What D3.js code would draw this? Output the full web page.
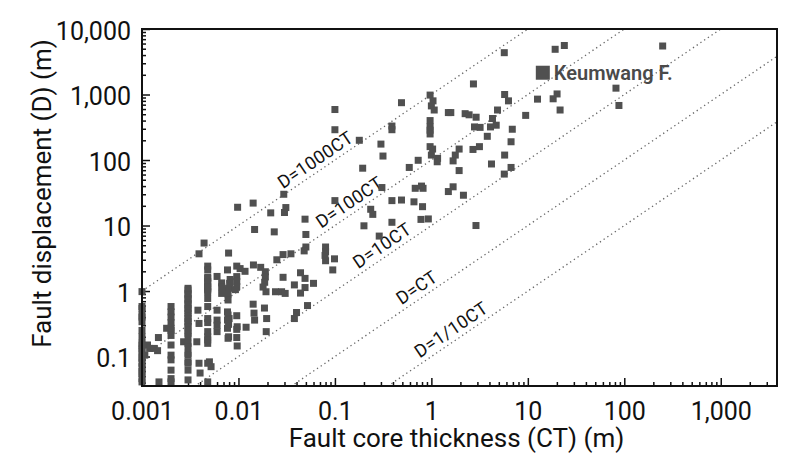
<!DOCTYPE html>
<html>
<head>
<meta charset="utf-8">
<script src="https://cdn.jsdelivr.net/npm/d3@7"></script>
<style>
  body { margin: 0; background: #fff; }
  svg { display: block; }
  text { font-family: Roboto, "DejaVu Sans", sans-serif; }
</style>
</head>
<body>
<div id="chart"></div>
<script>
// [fault core thickness CT (m), fault displacement D (m)]
const points = [
  // CT ~ 0.001
  [0.001,0.98],[0.001,0.58],[0.001,0.54],[0.001,0.43],[0.001,0.40],[0.001,0.34],[0.001,0.25],[0.001,0.20],
  [0.001,0.16],[0.001,0.15],[0.001,0.13],[0.001,0.12],[0.001,0.099],[0.001,0.094],[0.001,0.079],[0.001,0.070],
  [0.001,0.059],[0.001,0.055],[0.001,0.046],[0.001,0.041],
  [0.00107,0.105],[0.00114,0.15],[0.0012,0.133],[0.00134,0.133],[0.00145,0.123],[0.00148,0.195],[0.0015,0.041],
  // CT ~ 0.002
  [0.002,0.58],[0.002,0.48],[0.002,0.40],[0.002,0.33],[0.002,0.27],[0.0018,0.27],[0.002,0.25],[0.002,0.21],
  [0.002,0.15],[0.002,0.105],[0.002,0.089],[0.002,0.062],[0.002,0.046],[0.002,0.041],
  // CT ~ 0.003
  [0.003,1.10],[0.003,1.04],[0.003,0.92],[0.003,0.87],[0.003,0.77],[0.003,0.73],[0.003,0.65],[0.003,0.61],
  [0.003,0.54],[0.003,0.51],[0.003,0.46],[0.003,0.41],[0.003,0.38],[0.003,0.34],[0.003,0.32],[0.003,0.285],
  [0.003,0.25],[0.003,0.226],[0.003,0.20],[0.0027,0.168],[0.003,0.159],[0.003,0.141],[0.003,0.112],[0.003,0.105],
  [0.003,0.083],[0.003,0.079],[0.003,0.062],[0.003,0.044],
  // CT ~ 0.004
  [0.0038,0.51],[0.0039,0.32],[0.0037,0.168],[0.0039,0.079],[0.004,0.056],[0.0039,3.7],[0.0044,5.4],
  // CT ~ 0.005
  [0.0048,2.4],[0.0048,2.1],[0.0048,1.62],[0.0048,1.56],[0.0048,1.39],[0.0048,1.31],[0.0048,1.16],[0.0048,1.10],
  [0.0048,1.04],[0.0048,0.975],[0.0048,0.77],[0.0048,0.58],[0.0048,0.38],[0.0048,0.33],[0.0048,0.24],[0.0048,0.20],
  [0.0048,0.179],[0.0048,0.159],[0.005,0.083],[0.0048,0.079],[0.0052,0.070],[0.0048,0.041],
  // CT ~ 0.006 - 0.007
  [0.006,1.67],[0.006,0.51],[0.006,0.36],[0.006,0.30],[0.006,0.24],
  [0.0067,1.33],[0.0067,1.16],[0.0069,1.04],[0.0067,0.92],
  // CT ~ 0.008
  [0.0079,3.8],[0.0077,2.1],[0.0082,1.5],[0.0081,1.31],[0.0079,1.10],[0.0078,0.90],[0.0078,0.73],[0.0077,0.48],
  [0.0078,0.43],[0.008,0.38],[0.0077,0.36],[0.0079,0.31],[0.0077,0.27],[0.0079,0.20],[0.0078,0.19],
  // CT ~ 0.01
  [0.0096,2.4],[0.0096,1.66],[0.0096,1.4],[0.0096,1.17],[0.0093,1.05],[0.0096,0.42],[0.0097,0.285],[0.0096,0.26],
  [0.0096,0.195],[0.0097,0.145],[0.0104,2.2],[0.0117,2.0],[0.012,0.28],
  // CT 0.01 - 0.1, upper
  [0.0098,19],[0.0142,22],[0.0147,8.7],[0.0216,15.6],[0.031,18.8],[0.030,15.8],[0.0295,30],[0.049,12.5],
  [0.0235,8.0],[0.050,7.3],[0.10,590],[0.10,290],[0.10,24],
  // CT 0.01 - 0.1, middle
  [0.029,3.6],[0.035,3.7],[0.050,4.7],[0.048,4.1],[0.025,3.0],[0.080,4.7],[0.080,4.0],[0.079,3.5],
  [0.080,2.9],[0.099,3.1],[0.095,2.1],
  [0.0143,2.5],[0.017,2.3],[0.019,1.97],[0.019,1.64],[0.0187,1.36],[0.018,1.15],[0.0193,0.975],[0.0242,0.975],
  [0.028,0.975],[0.0305,0.92],[0.029,1.62],[0.044,1.9],[0.049,1.56],[0.038,1.24],[0.060,1.31],[0.049,1.13],
  [0.044,0.93],[0.052,0.60],[0.040,0.47],[0.038,0.38],
  [0.0142,0.63],[0.0186,0.55],[0.0145,0.46],[0.0147,0.36],[0.0196,0.38],[0.0194,0.24],
  // CT 0.1 - 1
  [0.179,200],[0.194,75],[0.235,17.7],[0.247,14.8],[0.20,9.9],[0.288,6.9],[0.30,175],[0.315,115],
  [0.307,38],[0.39,330],[0.39,290],[0.39,24],[0.49,24.5],[0.66,23],[0.81,19.4],[0.39,11.2],
  [0.78,12.4],[0.93,12.6],[0.59,77],[0.73,99],[0.68,37],[0.79,40],[0.82,37],[0.49,750],
  // CT 1 - 10
  [0.97,980],[1.04,800],[1.0,670],[1.07,580],[1.5,530],[1.59,530],[2.24,510],[2.46,490],
  [2.91,450],[5.7,4350],[2.73,1450],[5.75,1000],[6.3,800],[4.85,580],[4.3,430],[2.8,320],
  [3.2,315],[4.1,320],[4.7,340],[6.9,295],[3.8,230],[9.5,480],[12.6,850],
  [0.97,400],[0.97,320],[0.97,285],[0.97,250],[0.97,160],[1.03,147],[1.0,119],[1.16,106],
  [1.15,94],[1.94,147],[1.77,119],[1.68,97],[2.7,145],[3.15,160],[6.7,190],[5.75,119],
  [4.2,87],[1.94,69],[6.7,77],[5.7,61],[1.68,39],[1.5,33],[2.15,29],[2.9,10],
  // CT > 10
  [19.2,4900],[23.9,5600],[250,5500],[18.3,860],[20.1,1020],[21.6,580],[82,1250],[88,680]
];

const keumwang = [14.3, 2150];
const keumwangLabel = "Keumwang F.";

// D = ratio * CT reference lines
const ratios = [1000, 100, 10, 1, 0.1];
const ratioLabels = ["D=1000CT", "D=100CT", "D=10CT", "D=CT", "D=1/10CT"];
const ratioLabelAt = [0.028, 0.070, 0.169, 0.475, 0.734]; // CT where each label starts

const xMajor = [0.001, 0.01, 0.1, 1, 10, 100, 1000];
const xMajorLabels = ["0.001", "0.01", "0.1", "1", "10", "100", "1,000"];
const yMajor = [0.1, 1, 10, 100, 1000, 10000];
const yMajorLabels = ["0.1", "1", "10", "100", "1,000", "10,000"];

const xTitle = "Fault core thickness (CT) (m)";
const yTitle = "Fault displacement (D) (m)";

const width = 800, height = 457;
const plot = { left: 142, right: 777, top: 29, bottom: 386 };

const x = d3.scaleLog().domain([0.001, 3830]).range([plot.left, plot.right]);
const y = d3.scaleLog().domain([0.0355, 10000]).range([plot.bottom, plot.top]);

const svg = d3.select("#chart").append("svg")
  .attr("width", width).attr("height", height);

svg.append("clipPath").attr("id", "clip")
  .append("rect")
  .attr("x", plot.left).attr("y", plot.top)
  .attr("width", plot.right - plot.left).attr("height", plot.bottom - plot.top);

// minor ticks (2..9 in every decade)
const xMinor = x.ticks().filter(v => !xMajor.some(m => Math.abs(m - v) / m < 1e-6));
const yMinor = y.ticks().filter(v => !yMajor.some(m => Math.abs(m - v) / m < 1e-6) && v < 10000);

function styleAxis(g) {
  g.select(".domain").remove();
  g.selectAll(".tick line").attr("stroke", "#111").attr("stroke-width", 1.5);
  g.selectAll(".tick text")
    .attr("fill", "#111")
    .style("font-size", "25px");
}

svg.append("g")
  .attr("transform", `translate(0,${plot.bottom})`)
  .call(d3.axisBottom(x).tickValues(xMinor).tickSize(-4).tickFormat(""))
  .call(styleAxis);

svg.append("g")
  .attr("transform", `translate(0,${plot.bottom})`)
  .call(d3.axisBottom(x).tickValues(xMajor).tickSize(-8).tickPadding(16)
    .tickFormat((d, i) => xMajorLabels[i]))
  .call(styleAxis);

svg.append("g")
  .attr("transform", `translate(${plot.left},0)`)
  .call(d3.axisLeft(y).tickValues(yMinor).tickSize(-4).tickFormat(""))
  .call(styleAxis);

svg.append("g")
  .attr("transform", `translate(${plot.left},0)`)
  .call(d3.axisLeft(y).tickValues(yMajor).tickSize(-8).tickPadding(11)
    .tickFormat((d, i) => yMajorLabels[i]))
  .call(styleAxis)
  .call(g => g.selectAll(".tick text").attr("y", 2));

// reference lines
const lineGen = d3.line().x(d => x(d[0])).y(d => y(d[1]));
const xDom = x.domain();
svg.append("g").attr("clip-path", "url(#clip)")
  .selectAll("path")
  .data(ratios)
  .join("path")
  .attr("d", k => lineGen([[xDom[0], k * xDom[0]], [xDom[1], k * xDom[1]]]))
  .attr("fill", "none")
  .attr("stroke", "#666")
  .attr("stroke-width", 1.3)
  .attr("stroke-dasharray", "1.3,3.2");

const angle = Math.atan2(y(10) - y(1), x(10) - x(1)) * 180 / Math.PI;
svg.append("g")
  .selectAll("text")
  .data(ratios)
  .join("text")
  .attr("transform", (k, i) => `translate(${x(ratioLabelAt[i])},${y(k * ratioLabelAt[i])}) rotate(${angle})`)
  .attr("dx", 5)
  .attr("dy", -5)
  .attr("fill", "#111")
  .style("font-size", "18px")
  .style("letter-spacing", "0.3px")
  .text((k, i) => ratioLabels[i]);

// data points
const size = 7;
svg.append("g")
  .selectAll("rect")
  .data(points)
  .join("rect")
  .attr("x", d => x(d[0]) - size / 2)
  .attr("y", d => y(d[1]) - size / 2)
  .attr("width", size).attr("height", size)
  .attr("fill", "#505050");

const kSize = 14;
svg.append("rect")
  .attr("x", x(keumwang[0]) - kSize / 2)
  .attr("y", y(keumwang[1]) - kSize / 2)
  .attr("width", kSize).attr("height", kSize)
  .attr("fill", "#505050");
svg.append("text")
  .attr("x", x(keumwang[0]) + kSize / 2 + 4)
  .attr("y", y(keumwang[1]) + 7)
  .attr("fill", "#4a4a4a")
  .style("font-size", "20px")
  .style("font-weight", 600)
  .text(keumwangLabel);

// frame
svg.append("rect")
  .attr("x", plot.left).attr("y", plot.top)
  .attr("width", plot.right - plot.left).attr("height", plot.bottom - plot.top)
  .attr("fill", "none").attr("stroke", "#111").attr("stroke-width", 2);

// axis titles
svg.append("text")
  .attr("x", (plot.left + plot.right) / 2 - 3)
  .attr("y", 447)
  .attr("text-anchor", "middle")
  .attr("fill", "#111")
  .style("font-size", "26px")
  .text(xTitle);

svg.append("text")
  .attr("transform", `translate(51,${(plot.top + plot.bottom) / 2 - 14}) rotate(-90)`)
  .attr("text-anchor", "middle")
  .attr("fill", "#111")
  .style("font-size", "26px")
  .text(yTitle);
</script>
</body>
</html>
